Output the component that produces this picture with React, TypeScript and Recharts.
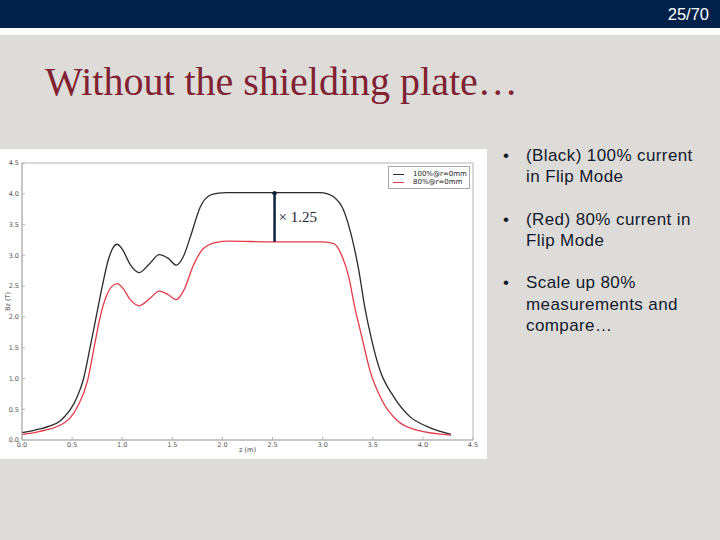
import React from 'react';
import {
  LineChart,
  Line,
  XAxis,
  YAxis,
  Legend,
  Label,
  ReferenceArea,
  ReferenceLine,
  ReferenceDot,
} from 'recharts';

// axis ticks (same for z and Bz)
const zTicks = [0, 0.5, 1, 1.5, 2, 2.5, 3, 3.5, 4, 4.5];
const bzTicks = [0, 0.5, 1, 1.5, 2, 2.5, 3, 3.5, 4, 4.5];

// 100% flip mode, r = 0mm (black)
const zFull = [
  0.0, 0.1, 0.18, 0.28, 0.38, 0.43, 0.48, 0.55, 0.61, 0.68, 0.74, 0.8, 0.86, 0.9,
  0.95, 1.0, 1.08, 1.17, 1.27, 1.37, 1.46, 1.54, 1.61, 1.68, 1.78, 1.88, 1.96,
  2.04, 2.5, 2.97, 3.05, 3.11, 3.21, 3.29, 3.36, 3.42, 3.49, 3.57, 3.71, 3.87,
  4.04, 4.28,
];
const bzFull = [
  0.12, 0.15, 0.18, 0.23, 0.31, 0.39, 0.49, 0.7, 0.97, 1.51, 2.0, 2.49, 2.92, 3.1,
  3.18, 3.1, 2.85, 2.72, 2.86, 3.01, 2.95, 2.84, 2.98, 3.3, 3.79, 3.98, 4.01,
  4.02, 4.02, 4.02, 4.0, 3.95, 3.73, 3.3, 2.76, 2.16, 1.62, 1.14, 0.7, 0.38,
  0.22, 0.09,
];

// 80% flip mode, r = 0mm (red)
const zEighty = [
  0.0, 0.1, 0.18, 0.28, 0.38, 0.43, 0.48, 0.56, 0.655, 0.72, 0.78, 0.84, 0.9,
  0.95, 1.0, 1.08, 1.17, 1.27, 1.37, 1.46, 1.54, 1.62, 1.71, 1.81, 1.94, 2.06,
  2.5, 3.0, 3.11, 3.19, 3.26, 3.32, 3.39, 3.47, 3.59, 3.74, 3.94, 4.28,
];
const bzEighty = [
  0.09, 0.11, 0.14, 0.18, 0.24, 0.29, 0.36, 0.56, 0.97, 1.51, 2.0, 2.33, 2.5,
  2.54, 2.48, 2.28, 2.18, 2.29, 2.42, 2.36, 2.28, 2.45, 2.84, 3.11, 3.21, 3.23,
  3.22, 3.22, 3.19, 3.0, 2.65, 2.16, 1.68, 1.14, 0.65, 0.32, 0.16, 0.08,
];

// the "x 1.25" arrow between the two plateaus
const scaleZ = 2.52;
const scaleTop = 4.01;
const scaleBottom = 3.22;

const fullData = zFull.map((z, i) => ({ z, bz: bzFull[i] }));
const eightyData = zEighty.map((z, i) => ({ z, bz: bzEighty[i] }));

const bullets = [
  ['(Black) 100% current', 'in Flip Mode'],
  ['(Red) 80% current in', 'Flip Mode'],
  ['Scale up 80%', 'measurements and', 'compare…'],
];

const frame = '#b4b4b4';
const tickStyle = { fontSize: 6.5, fill: '#555', fontFamily: 'DejaVu Sans' };

function PlotLegend({ payload }: any) {
  return (
    <div
      style={{
        width: 82,
        height: 23,
        boxSizing: 'border-box',
        border: '1px solid #a8a8a8',
        background: '#fff',
        padding: '3px 0 0 4px',
        fontFamily: 'DejaVu Sans',
        fontSize: 7,
        color: '#222',
      }}
    >
      {(payload || []).map((p: any) => (
        <div key={p.value} style={{ display: 'flex', alignItems: 'center', height: 8 }}>
          <span style={{ width: 11, height: 1, background: p.color, marginRight: 9 }} />
          <span>{p.value}</span>
        </div>
      ))}
    </div>
  );
}

function FieldChart() {
  return (
    <LineChart width={487} height={310} margin={{ top: 14, right: 14, bottom: 0, left: 0 }}>
      <XAxis
        type="number"
        dataKey="z"
        domain={[0, 4.5]}
        ticks={zTicks}
        interval={0}
        tickFormatter={(v: number) => v.toFixed(1)}
        height={19}
        axisLine={{ stroke: frame }}
        tickLine={{ stroke: frame }}
        tickSize={-3}
        tickMargin={5}
        tick={tickStyle}
      >
        <Label
          content={({ viewBox }: any) => (
            <text
              x={viewBox.x + viewBox.width / 2}
              y={viewBox.y + 11.5}
              textAnchor="middle"
              fontSize={6.5}
              fontFamily="DejaVu Sans"
              fill="#444"
            >
              z (m)
            </text>
          )}
        />
      </XAxis>
      <YAxis
        type="number"
        domain={[0, 4.5]}
        ticks={bzTicks}
        interval={0}
        tickFormatter={(v: number) => v.toFixed(1)}
        width={22}
        axisLine={{ stroke: frame }}
        tickLine={{ stroke: frame }}
        tickSize={-3}
        tickMargin={6}
        tick={tickStyle}
      >
        <Label
          content={({ viewBox }: any) => {
            const cx = 9.5;
            const cy = viewBox.y + viewBox.height / 2;
            return (
              <text
                x={cx}
                y={cy}
                transform={`rotate(-90 ${cx} ${cy})`}
                textAnchor="middle"
                fontSize={6.5}
                fontFamily="DejaVu Sans"
                fill="#444"
              >
                Bz (T)
              </text>
            );
          }}
        />
      </YAxis>
      <ReferenceArea x1={0} x2={4.5} y1={0} y2={4.5} fill="none" stroke={frame} strokeWidth={1} />
      <Legend
        content={<PlotLegend />}
        layout="vertical"
        verticalAlign="middle"
        align="center"
        wrapperStyle={{ top: 17, left: 388, width: 82 }}
      />
      <Line
        data={fullData}
        dataKey="bz"
        name="100%@r=0mm"
        type="monotone"
        stroke="#2a2a2a"
        strokeWidth={1.3}
        dot={false}
        isAnimationActive={false}
      />
      <Line
        data={eightyData}
        dataKey="bz"
        name="80%@r=0mm"
        type="monotone"
        stroke="#e23b48"
        strokeWidth={1.3}
        dot={false}
        isAnimationActive={false}
      />
      <ReferenceLine
        segment={[
          { x: scaleZ, y: scaleTop },
          { x: scaleZ, y: scaleBottom },
        ]}
        stroke="#0c2240"
        strokeWidth={2.5}
        label={({ viewBox }: any) => (
          <text
            x={viewBox.x + 4}
            y={viewBox.y + viewBox.height / 2 + 5}
            fontSize={15}
            fontFamily="Liberation Serif"
            fill="#1c2230"
          >
            × 1.25
          </text>
        )}
      />
      <ReferenceDot x={scaleZ} y={scaleTop} r={2.2} fill="#0c2240" stroke="none" />
    </LineChart>
  );
}

export default function App() {
  return (
    <div
      style={{
        position: 'absolute',
        left: 0,
        top: 0,
        width: 720,
        height: 540,
        background: '#dedcd8',
        overflow: 'hidden',
      }}
    >
      <div style={{ position: 'absolute', left: 0, top: 0, width: 720, height: 28, background: '#00214a' }} />
      <div style={{ position: 'absolute', left: 0, top: 28, width: 720, height: 7, background: '#fff' }} />
      <div
        style={{
          position: 'absolute',
          right: 11,
          top: 2,
          lineHeight: '24px',
          fontSize: 16.5,
          fontFamily: 'Liberation Sans, Arial, sans-serif',
          color: '#fff',
        }}
      >
        25/70
      </div>
      <div
        style={{
          position: 'absolute',
          left: 45,
          top: 61.5,
          lineHeight: '40px',
          fontSize: 40,
          fontFamily: 'Liberation Serif, serif',
          color: '#7f2333',
          whiteSpace: 'nowrap',
        }}
      >
        Without the shielding plate…
      </div>

      <div style={{ position: 'absolute', left: 0, top: 149, width: 487, height: 310, background: '#fff' }}>
        <FieldChart />
      </div>

      {bullets.map((lines, i) => (
        <div
          key={i}
          style={{
            position: 'absolute',
            left: 503,
            top: 145.2 + i * 63.6,
            fontSize: 17,
            lineHeight: '21.2px',
            letterSpacing: 0.4,
            fontFamily: 'Liberation Sans, Arial, sans-serif',
            color: '#111a2e',
            whiteSpace: 'nowrap',
          }}
        >
          <span style={{ position: 'absolute', left: 0, top: 0 }}>•</span>
          <div style={{ marginLeft: 23 }}>
            {lines.map((l) => (
              <div key={l}>{l}</div>
            ))}
          </div>
        </div>
      ))}
    </div>
  );
}
